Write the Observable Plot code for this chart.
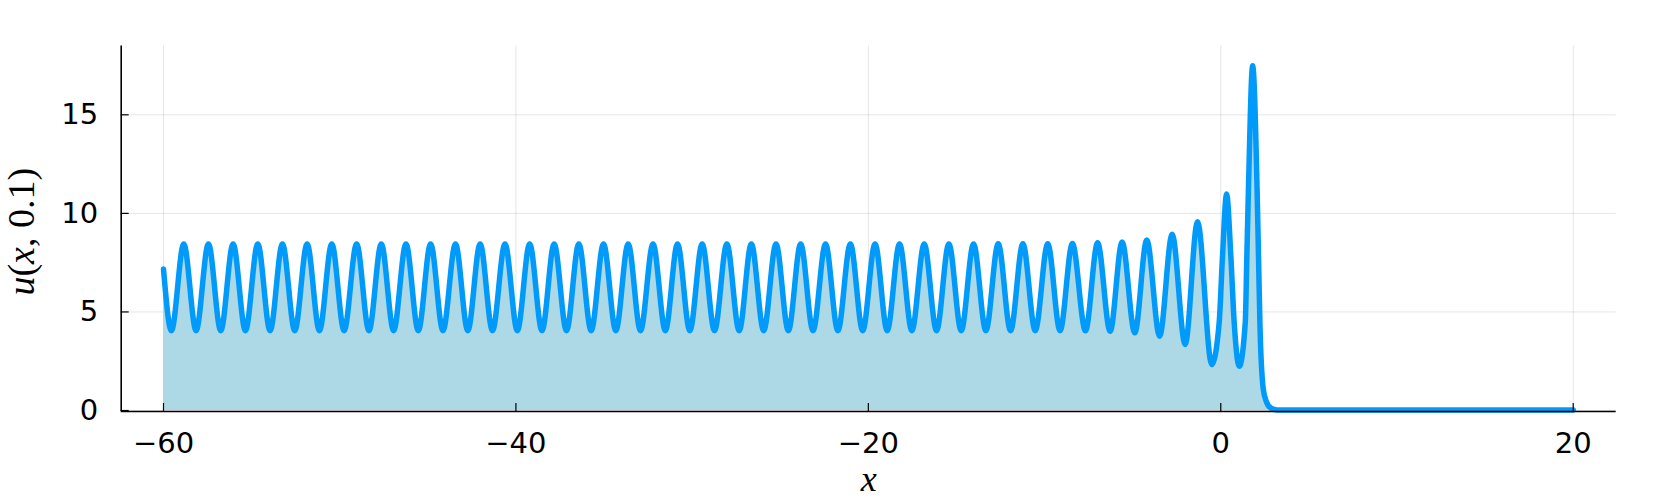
<!DOCTYPE html>
<html>
<head>
<meta charset="utf-8">
<script src="https://cdn.jsdelivr.net/npm/d3@7"></script>
<script src="https://cdn.jsdelivr.net/npm/@observablehq/plot@0.6"></script>
<style>
  html, body { margin: 0; padding: 0; background: #fff; }
  #chart svg { display: block; }
</style>
</head>
<body>
<div id="chart"></div>
<script>
// ---- data ----
const xValues = [
  -60.00, -59.55, -58.85, -58.15, -57.45, -56.75, -56.05, -55.35, -54.65, -53.95,
  -53.25, -52.55, -51.85, -51.15, -50.45, -49.75, -49.04, -48.34, -47.64, -46.94,
  -46.24, -45.54, -44.84, -44.14, -43.43, -42.73, -42.03, -41.33, -40.62, -39.92,
  -39.22, -38.52, -37.83, -37.13, -36.43, -35.73, -35.03, -34.33, -33.63, -32.93,
  -32.22, -31.52, -30.83, -30.13, -29.43, -28.73, -28.03, -27.33, -26.64, -25.94,
  -25.24, -24.54, -23.84, -23.14, -22.43, -21.73, -21.02, -20.32, -19.62, -18.93,
  -18.23, -17.53, -16.83, -16.13, -15.43, -14.73, -14.03, -13.33, -12.63, -11.93,
  -11.23, -10.53, -9.82, -9.12, -8.42, -7.68, -6.99, -6.28, -5.60, -4.88,
  -4.20, -3.47, -2.76, -2.02, -1.32, -0.51, -0.09, 0.10, 0.33, 0.57,
  0.76, 1.05, 1.39, 1.48, 1.57, 1.81, 2.06, 2.14, 2.22, 2.41,
  2.60, 2.85, 3.20, 20.00
];
const uValues = [
  7.18, 4.05, 8.45, 4.05, 8.45, 4.05, 8.45, 4.05, 8.45, 4.05,
  8.45, 4.05, 8.45, 4.05, 8.45, 4.05, 8.45, 4.05, 8.45, 4.05,
  8.45, 4.05, 8.45, 4.05, 8.45, 4.05, 8.45, 4.05, 8.45, 4.05,
  8.45, 4.05, 8.45, 4.05, 8.45, 4.05, 8.45, 4.05, 8.45, 4.05,
  8.45, 4.05, 8.45, 4.05, 8.45, 4.05, 8.45, 4.05, 8.45, 4.05,
  8.45, 4.05, 8.45, 4.05, 8.45, 4.05, 8.45, 4.05, 8.45, 4.05,
  8.45, 4.05, 8.45, 4.05, 8.45, 4.05, 8.45, 4.05, 8.46, 4.05,
  8.46, 4.05, 8.46, 4.05, 8.47, 4.04, 8.51, 4.02, 8.55, 3.94,
  8.65, 3.77, 8.94, 3.35, 9.58, 2.33, 4.48, 7.86, 10.98, 7.86,
  4.48, 2.25, 4.48, 7.86, 11.24, 17.49, 11.24, 7.86, 4.48, 1.10,
  0.42, 0.12, 0.03, 0.03
];
const xTicks = [-60, -40, -20, 0, 20];
const yTicks = [0, 5, 10, 15];
const xDomain = [-62.4, 22.44];
const yDomain = [-0.05, 18.49];
const xLabel = "x";
const yLabel = "u(x, 0.1)";

// ---- chart ----
const data = xValues.map((x, i) => ({x, u: uValues[i]}));
const W = 1661, H = 498;
const mL = 120.7, mR = 45.3, mT = 45.5, mB = 87;
const frameW = W - mL - mR, frameH = H - mT - mB;
const tickLen = 8;
const tickFont = 29;

const chart = Plot.plot({
  width: W,
  height: H,
  marginLeft: mL,
  marginRight: mR,
  marginTop: mT,
  marginBottom: mB,
  style: {fontFamily: "'DejaVu Sans', sans-serif", background: "#fff", color: "#000"},
  x: {domain: xDomain},
  y: {domain: yDomain},
  marks: [
    Plot.gridX(xTicks, {stroke: "#000", strokeOpacity: 0.1, strokeWidth: 1}),
    Plot.gridY(yTicks, {stroke: "#000", strokeOpacity: 0.1, strokeWidth: 1}),
    Plot.areaY(data, {x: "x", y: "u", fill: "#add8e6", curve: "monotone-x"}),
    Plot.lineY(data, {x: "x", y: "u", stroke: "#009afa", strokeWidth: 5.5,
      curve: "monotone-x", strokeLinejoin: "round", strokeLinecap: "round"}),
    Plot.ruleX([xDomain[0]], {stroke: "#000", strokeWidth: 1.6}),
    Plot.ruleY([yDomain[0]], {stroke: "#000", strokeWidth: 1.6}),
    Plot.tickX(xTicks, {x: d => d, insetTop: frameH - tickLen, stroke: "#000", strokeWidth: 1.2}),
    Plot.tickY(yTicks, {y: d => d, insetRight: frameW - tickLen, stroke: "#000", strokeWidth: 1.2}),
    Plot.axisX({ticks: xTicks, tickSize: 0, tickPadding: 21, fontSize: tickFont,
      tickFormat: d3.format("d"), label: null, fill: "#000"}),
    Plot.axisY({ticks: yTicks, tickSize: 0, tickPadding: 23, fontSize: tickFont,
      tickFormat: d3.format("d"), label: null, fill: "#000"}),
    Plot.text([xLabel], {text: d => d, frameAnchor: "bottom", dy: 79, lineAnchor: "bottom",
      textAnchor: "middle", fontSize: 36, fontFamily: "'Liberation Serif', serif",
      fontStyle: "italic", fill: "#000"}),
    Plot.text([yLabel], {text: d => d, frameAnchor: "left", dx: -87.7, dy: 3, rotate: -90,
      lineAnchor: "bottom", textAnchor: "middle", fontSize: 38,
      fontFamily: "'Liberation Serif', serif", fill: "#000"})
  ]
});

// style the math label: italic variables, upright numbers and punctuation
const SVGNS = "http://www.w3.org/2000/svg";
chart.querySelectorAll("text").forEach(t => {
  if (t.textContent === yLabel) {
    t.textContent = "";
    const parts = [["u", true], ["(", false], ["x", true], [", 0.1)", false]];
    for (const [s, it] of parts) {
      const ts = document.createElementNS(SVGNS, "tspan");
      ts.textContent = s;
      if (it) ts.setAttribute("font-style", "italic");
      t.appendChild(ts);
    }
  }
});

document.getElementById("chart").appendChild(chart);
</script>
</body>
</html>
